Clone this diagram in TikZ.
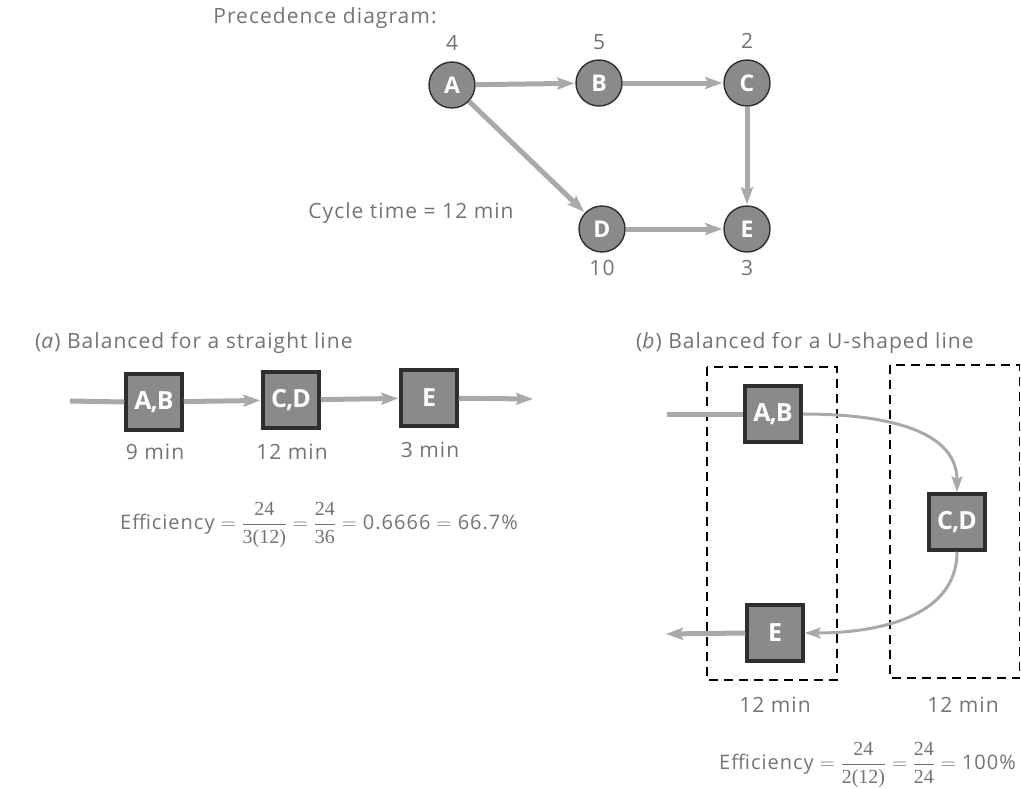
\documentclass[tikz,border=0pt]{standalone}
\usepackage{amsmath}
\usepackage{fontspec}
\setmainfont{Open Sans}[LetterSpace=5]
\newfontfamily\tagfont{Open Sans}[LetterSpace=-4]
\newfontfamily\numfont{Liberation Serif}
\usetikzlibrary{arrows.meta}
\definecolor{txt}{HTML}{737373}
\definecolor{flow}{HTML}{A9A9A9}
\definecolor{task}{HTML}{8A8A8A}
\definecolor{rim}{HTML}{2E2E2E}
% serif figures for the fractions
\newcommand{\nf}[1]{\text{\numfont #1}}
\tikzset{
  lbl/.style={text=txt, font=\fontsize{21}{24}\selectfont, inner sep=0pt},
  eqn/.style={text=txt, font=\fontsize{20}{24}\selectfont, inner sep=0pt},
  act/.style={circle, draw=rim, line width=1.4pt, fill=task, minimum size=46pt,
    inner sep=0pt, text=white, font=\tagfont\bfseries\fontsize{23}{26}\selectfont},
  station/.style={rectangle, draw=rim, line width=3.5pt, fill=task, minimum size=56pt,
    inner sep=0pt, text=white, font=\tagfont\bfseries\fontsize{25}{28}\selectfont},
  link/.style={draw=flow, line width=5pt},
  arr/.style={link, -{Stealth[length=17pt,width=12pt,inset=3pt]}, shorten >=1pt},
  thinarr/.style={draw=flow, line width=3pt, -{Stealth[length=16pt,width=11pt,inset=3pt]}},
  zone/.style={draw=black, line width=1.2pt, dash pattern=on 9pt off 6pt},
}
\begin{document}
\begin{tikzpicture}[x=1pt, y=-1pt]
\useasboundingbox (0,0) rectangle (1021,788);

% precedence diagram
\node[lbl] (title) at (325,18) {Precedence diagram:};
\node[act] (A) at (452,85) {A};
\node[act] (B) at (599,83) {B};
\node[act] (C) at (747,83) {C};
\node[act] (D) at (602,229) {D};
\node[act] (E) at (747,229) {E};
\node[lbl] (tA) at (452,43) {4};
\node[lbl] (tB) at (599,42) {5};
\node[lbl] (tC) at (747,41) {2};
\node[lbl] (tD) at (602,268) {10};
\node[lbl] (tE) at (747,268) {3};
\node[lbl] (cycle) at (411,213) {Cycle time = 12 min};
\draw[arr] (A) -- (B);
\draw[arr] (B) -- (C);
\draw[arr] (A) -- (D);
\draw[arr] (C) -- (E);
\draw[arr] (D) -- (E);

% (a) straight line
\node[lbl, anchor=west] (ta) at (35,343) {(\textit{a}) Balanced for a straight line};
\coordinate (ain) at (70,401);
\coordinate (aout) at (534,399);
\node[station] (s1) at (154,402) {A,B};
\node[station] (s2) at (291,400) {C,D};
\node[station] (s3) at (429,398) {E};
\draw[link] (ain) -- (s1.west);
\draw[arr] (s1) -- (s2);
\draw[arr] (s2) -- (s3);
\draw[arr] (s3) -- (aout);
\node[lbl] (m1) at (155,452) {9 min};
\node[lbl] (m2) at (292,452) {12 min};
\node[lbl] (m3) at (430,450) {3 min};
\node[eqn] (effa) at (319,525) {Efficiency $=\dfrac{\nf{24}}{\nf{3(12)}}=\dfrac{\nf{24}}{\nf{36}}=$ 0.6666 $=$ 66.7\%};

% (b) U-shaped line
\node[lbl, anchor=west] (tb) at (636,343) {(\textit{b}) Balanced for a U-shaped line};
\draw[zone] (707,367) rectangle (837,680);
\draw[zone] (890,365) rectangle (1019.5,678);
\coordinate (bin) at (667,414);
\coordinate (bout) at (665,634);
\node[station] (u1) at (773,414) {A,B};
\node[station] (u2) at (957,522) {C,D};
\node[station] (u3) at (775,633) {E};
\draw[link] (bin) -- (u1.west);
\draw[thinarr] (u1.east) to[out=0, in=90] (u2.north);
\draw[thinarr] (u2.south) to[out=-90, in=0] (u3.east);
\draw[arr] (u3.west) -- (bout);
\node[lbl] (z1) at (775,705) {12 min};
\node[lbl] (z2) at (963,705) {12 min};
\node[eqn, anchor=east] (effb) at (1016,765) {Efficiency $=\dfrac{\nf{24}}{\nf{2(12)}}=\dfrac{\nf{24}}{\nf{24}}=$ 100\%};
\end{tikzpicture}
\end{document}
